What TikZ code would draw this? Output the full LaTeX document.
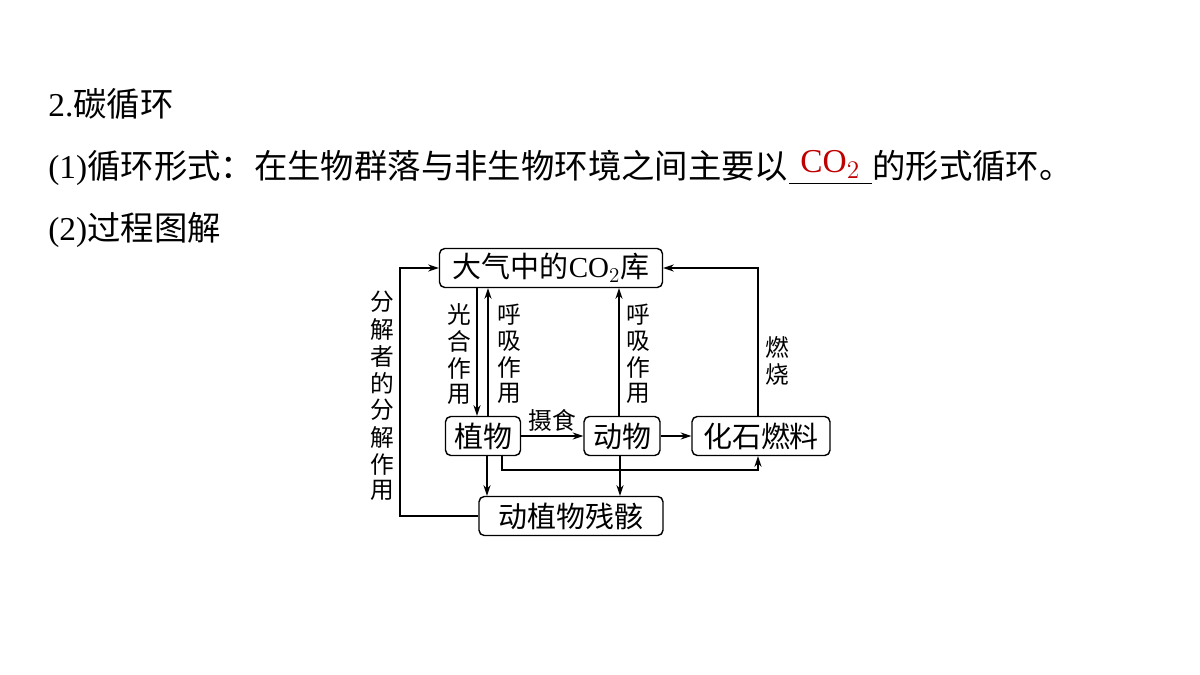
\documentclass[tikz,border=0pt]{standalone}
\usepackage{fontspec}
\setmainfont{Liberation Serif}
\newfontfamily\cjk{Noto Sans CJK SC}
\usetikzlibrary{arrows.meta,positioning}
\newcommand{\vtext}[1]{\shortstack{#1}}
\begin{document}
\begin{tikzpicture}[x=0.02cm,y=-0.02cm,
    head/.style={font=\fontsize{19}{21}\selectfont,inner sep=0pt},
    box/.style={draw,thick,rounded corners=3pt,minimum height=0.78cm,inner sep=1pt,font=\cjk\fontsize{16.5}{18}\selectfont},
    lbl/.style={font=\cjk\fontsize{13.5}{16}\selectfont,align=center,inner sep=0pt},
    line/.style={thick},
    >={Stealth[length=6pt,width=4pt]}]
    \useasboundingbox (0,0) rectangle (1200,675);

    % heading text
    \node[head,anchor=west] (t1) at (48,104) {2.{\cjk 碳循环}};
    \node[head,anchor=west] (t2) at (48,168) {(1){\cjk 循环形式：在生物群落与非生物环境之间主要以}};
    \node[head,anchor=base west,inner sep=0pt] (blank) at (t2.base east) {\rule[-3pt]{47pt}{0.6pt}};
    \node[head,anchor=base west] (t2b) at (blank.base east) {\cjk 的形式循环。};
    \node[head,text=red!75!black,above=3pt of blank.south] (ans) {CO$_2$};
    \node[head,anchor=west] (t3) at (48,230) {(2){\cjk 过程图解}};

    % boxes
    \begin{scope}
        \node[box,minimum width=223*0.02cm] (atm) at (551,268) {大气中的{\rmfamily CO$_2$}库};
        \node[box,minimum width=75*0.02cm] (plant) at (483,436) {植物};
        \node[box,minimum width=76*0.02cm] (animal) at (622,436) {动物};
        \node[box,minimum width=138*0.02cm] (fossil) at (761,436) {化石燃料};
        \node[box,minimum width=184*0.02cm] (remains) at (571,516) {动植物残骸};
    \end{scope}

    % connectors
    \draw[line,->] (atm.south -| 477,0) -- (plant.north -| 477,0);
    \draw[line,->] (plant.north -| 488,0) -- (atm.south -| 488,0);
    \draw[line,->] (animal.north -| 619,0) -- (atm.south -| 619,0);
    \draw[line,->] (plant) -- node[lbl,above=2pt] {摄食} (animal);
    \draw[line,->] (animal) -- (fossil);
    \draw[line,->] (fossil.north -| 758,0) |- (atm.east);
    \draw[line,->] (plant.south -| 487,0) -- (remains.north -| 487,0);
    \draw[line,->] (animal.south -| 620,0) -- (remains.north -| 620,0);
    \draw[line,->] (plant.south -| 502,0) |- (758,470) -- (fossil.south -| 758,0);
    \draw[line,->] (remains.west) -| (400,268) -- (atm.west);

    % labels
    \node[lbl] (l1) at (459,354) {\vtext{光\\合\\作\\用}};
    \node[lbl] (l2) at (509,354) {\vtext{呼\\吸\\作\\用}};
    \node[lbl] (l3) at (638,354) {\vtext{呼\\吸\\作\\用}};
    \node[lbl] (l4) at (777,361) {\vtext{燃\\烧}};
    \node[lbl] (l5) at (382,396) {\vtext{分\\解\\者\\的\\分\\解\\作\\用}};
\end{tikzpicture}
\end{document}
